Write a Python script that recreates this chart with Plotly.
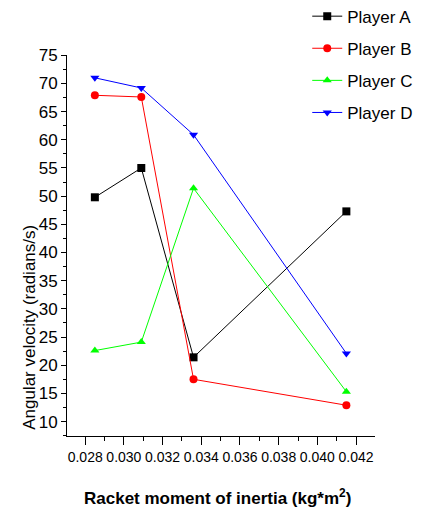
import plotly.graph_objects as go

x_vals = [0.0285, 0.0309, 0.0336, 0.0415]
player_a = [49.8, 55.0, 21.4, 47.3]
player_b = [67.9, 67.6, 17.5, 12.9]
player_c = [22.6, 24.1, 51.4, 15.3]
player_d = [71.0, 69.2, 60.9, 22.1]
names = ["Player A", "Player B", "Player C", "Player D"]
colors = ["#000000", "#FF0000", "#00FF00", "#0000FF"]
symbols = ["square", "circle", "triangle-up", "triangle-down"]
series = [player_a, player_b, player_c, player_d]

FONT = "Liberation Sans, Arial, sans-serif"

fig = go.Figure()
for name, ys, col, sym in zip(names, series, colors, symbols):
    fig.add_trace(go.Scatter(
        x=x_vals, y=ys, name=name, mode="lines+markers",
        line=dict(color=col, width=1),
        marker=dict(symbol=sym, size=8, color=col),
        legendgroup=name,
    ))

fig.update_layout(
    width=424, height=512,
    margin=dict(l=59, r=57, t=47, b=84, autoexpand=False),
    paper_bgcolor="white", plot_bgcolor="white",
    font=dict(family=FONT, color="black"),
    showlegend=True,
    legend=dict(x=0.78, y=1.148, xanchor="left", yanchor="top",
                font=dict(size=17, family=FONT), tracegroupgap=7,
                bgcolor="rgba(0,0,0,0)"),
    xaxis=dict(range=[0.02706, 0.04298], tick0=0.028, dtick=0.002,
               tickformat=".3f", tickangle=0, showgrid=False, zeroline=False,
               showline=True, linecolor="black", linewidth=1,
               ticks="outside", ticklen=8, tickcolor="black",
               tickfont=dict(size=14, family=FONT),
               minor=dict(dtick=0.001, ticks="outside", ticklen=4, tickcolor="black")),
    yaxis=dict(range=[7.44, 75.05], tick0=0, dtick=5, showgrid=False, zeroline=False,
               showline=True, linecolor="black", linewidth=1,
               ticks="outside", ticklen=5, tickcolor="black",
               tickfont=dict(size=17, family=FONT),
               minor=dict(dtick=2.5, ticks="outside", ticklen=3, tickcolor="black")),
    annotations=[
        dict(text="Angular velocity (radians/s)", xref="paper", yref="paper",
             x=-0.12, y=0.284, xanchor="center", yanchor="middle", textangle=-90,
             showarrow=False, font=dict(size=17, family=FONT)),
        dict(text="<b>Racket moment of inertia (kg*m<sup>2</sup>)</b>", xref="paper", yref="paper",
             x=0.49, y=-0.16, xanchor="center", yanchor="middle",
             showarrow=False, font=dict(size=17, family=FONT)),
    ],
)

fig.write_html("out.html")
